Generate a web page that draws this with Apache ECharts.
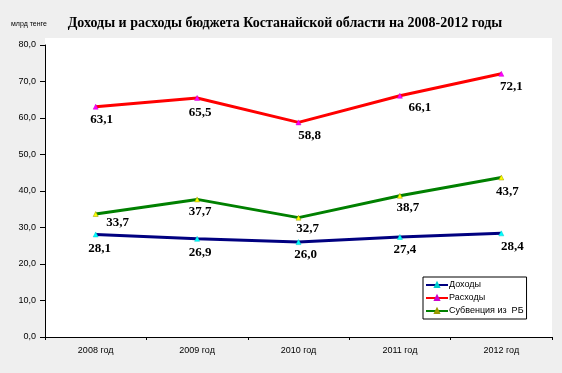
<!DOCTYPE html>
<html><head><meta charset="utf-8">
<script src="https://cdn.jsdelivr.net/npm/echarts@6/dist/echarts.min.js"></script>
<style>html,body{margin:0;padding:0;background:#efefef;}#c{width:562px;height:373px;}</style>
</head><body><div id="c"></div>
<script>
const categories = ['2008 год', '2009 год', '2010 год', '2011 год', '2012 год'];
const income = [28.1, 26.9, 26.0, 27.4, 28.4];
const expenses = [63.1, 65.5, 58.8, 66.1, 72.1];
const subvention = [33.7, 37.7, 32.7, 38.7, 43.7];
const seriesNames = ['Доходы', 'Расходы', 'Субвенция из  РБ'];
const yTicks = [0, 10, 20, 30, 40, 50, 60, 70, 80];

// label placement offsets (px) relative to each point
const incomeOffsets = [[4,14],[3,14],[7,13],[5,13],[11,13]];
const expenseOffsets = [[6,13],[3,15],[11,13],[20,12],[10,13]];
const subOffsets = [[22,9],[3,12],[9,11],[8,12],[6,14]];

const fmt = v => v.toFixed(1).replace('.', ',');
function mk(values, offsets) {
  return values.map((v, i) => ({
    value: v,
    label: { offset: offsets[i] }
  }));
}
const labelBase = {
  show: true, position: 'inside', align: 'center', verticalAlign: 'middle',
  fontFamily: 'Liberation Serif', fontWeight: 'bold', fontSize: 13, color: '#000',
  formatter: p => fmt(p.value)
};
const chart = echarts.init(document.getElementById('c'), null, {renderer: 'canvas'});
chart.setOption({
  animation: false,
  backgroundColor: '#efefef',
  title: {
    text: 'Доходы и расходы бюджета Костанайской области на 2008-2012 годы',
    left: 280, top: 11, textAlign: 'center',
    textStyle: { fontFamily: 'Liberation Serif', fontWeight: 'bold', fontSize: 14, color: '#000' }
  },
  graphic: [
    { type: 'rect', shape: { x: 45, y: 38, width: 507, height: 8 }, style: { fill: '#fff' }, z: -10, silent: true },
    { type: 'text', left: 11, top: 21, style: { text: 'млрд тенге', font: '7px "Liberation Sans"', fill: '#000' } }
  ],
  legend: {
    orient: 'vertical', left: 423, top: 277,
    width: 100,
    padding: [3, 3, 3, 2],
    itemWidth: 22, itemHeight: 5, itemGap: 3,
    backgroundColor: '#fff', borderColor: '#000', borderWidth: 1,
    textStyle: { fontFamily: 'Liberation Sans', fontSize: 9, color: '#000', padding: [0,0,0,-4], lineHeight: 10 },
    data: seriesNames
  },
  grid: { left: 45, right: 10, top: 45, bottom: 36, show: true, backgroundColor: '#fff', borderWidth: 0 },
  xAxis: {
    type: 'category', data: categories, boundaryGap: true,
    axisLine: { lineStyle: { color: '#000', width: 1 } },
    axisTick: { show: true, length: 3, lineStyle: { color: '#000' } },
    axisLabel: { fontFamily: 'Liberation Sans', fontSize: 9, color: '#000', margin: 9 }
  },
  yAxis: {
    type: 'value', min: yTicks[0], max: yTicks[yTicks.length - 1], interval: 10,
    axisLine: { show: true, lineStyle: { color: '#000', width: 1 } },
    axisTick: { show: true, length: 5, lineStyle: { color: '#000' } },
    splitLine: { show: false },
    axisLabel: { fontFamily: 'Liberation Sans', fontSize: 9, color: '#000', margin: 9, formatter: v => fmt(v) }
  },
  series: [
    { name: seriesNames[0], type: 'line', data: mk(income, incomeOffsets), symbol: 'triangle', symbolSize: 5,
      lineStyle: { color: '#000080', width: 3 }, itemStyle: { color: '#00ffff', borderColor: '#00cccc', borderWidth: 0.5 },
      label: labelBase, z: 3 },
    { name: seriesNames[1], type: 'line', data: mk(expenses, expenseOffsets), symbol: 'triangle', symbolSize: 5,
      lineStyle: { color: '#ff0000', width: 3 }, itemStyle: { color: '#ff00ff', borderColor: '#cc00cc', borderWidth: 0.5 },
      label: labelBase, z: 3 },
    { name: seriesNames[2], type: 'line', data: mk(subvention, subOffsets), symbol: 'triangle', symbolSize: 5,
      lineStyle: { color: '#008000', width: 3 }, itemStyle: { color: '#ffff00', borderColor: '#999900', borderWidth: 0.5 },
      label: labelBase, z: 3 }
  ]
});
</script></body></html>
